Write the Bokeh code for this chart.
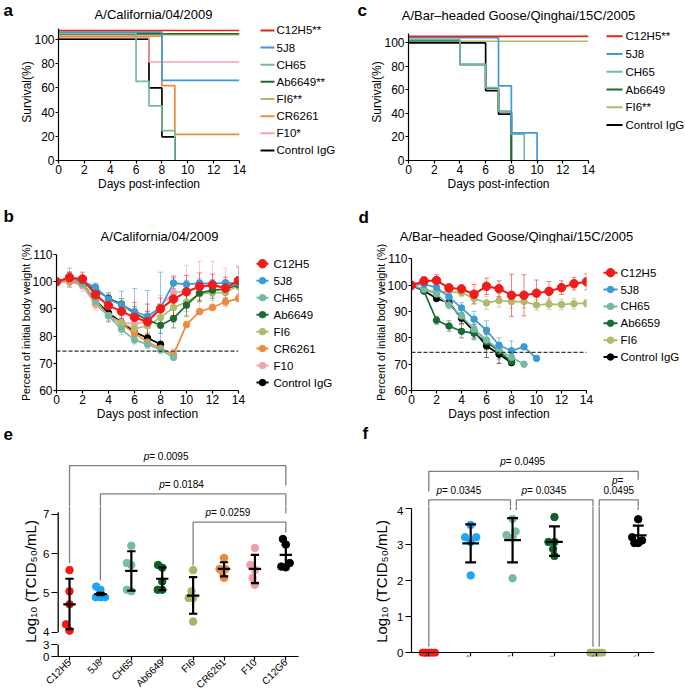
import math
from bokeh.plotting import figure
from bokeh.models import FixedTicker, Span, Whisker, ColumnDataSource, TeeHead, Range1d
from bokeh.layouts import row, column
from bokeh.core.properties import value
from bokeh.embed import file_html
from bokeh.resources import INLINE

FONT = "Liberation Sans"

# ---------------- data ----------------
day_ticks = [0, 2, 4, 6, 8, 10, 12, 14]
surv_ticks = [0, 20, 40, 60, 80, 100]
weight_ticks = [60, 70, 80, 90, 100, 110]
threshold = 74.5

cal_title = "A/California/04/2009"
goose_title = "A/Bar\u2013headed Goose/Qinghai/15C/2005"

# panel a (survival, California)
a_names = ["C12H5**", "5J8", "CH65", "Ab6649**", "FI6**", "CR6261", "F10*", "Control IgG"]
a_event_days = [[0, 14], [0, 8, 14], [0, 6, 7, 8, 9], [0, 14], [0, 14], [0, 8, 9, 14], [0, 7, 14], [0, 7, 8, 9]]
a_survival = [[107.3, 107.3], [105.9, 66.1, 66.1], [105.1, 65.3, 45.0, 24.6, 0], [104.6, 104.6],
              [103.8, 103.8], [102.7, 61.8, 21.6, 21.6], [101.6, 81.3, 81.3], [100.2, 59.9, 19.5, 0]]
a_colors = ["#f01c1c", "#3d9ad6", "#76b9a1", "#1a6b34", "#b0b96c", "#f08a3c", "#f5a3ab", "#000000"]

# panel c (survival, Goose)
c_names = ["C12H5**", "5J8", "CH65", "Ab6649", "FI6**", "Control IgG"]
c_event_days = [[0, 14], [0, 7, 8, 10], [0, 4, 6, 7, 8, 9], [0, 4, 6, 7, 8], [0, 14], [0, 6, 7, 8]]
c_survival = [[105.6, 105.6], [104.5, 63.5, 23.5, 0], [102.8, 82.0, 62.0, 42.0, 22.5, 0],
              [102.0, 81.5, 61.5, 41.5, 0], [101.4, 101.4], [100.0, 59.5, 39.5, 0]]
c_colors = ["#f01c1c", "#3d9ad6", "#76b9a1", "#1a6b34", "#b0b96c", "#000000"]

# panel b (body weight, California)
b_names = ["C12H5", "5J8", "CH65", "Ab6649", "FI6", "CR6261", "F10", "Control IgG"]
b_mean = [
    [100, 101.5, 101, 95.2, 91.2, 89.1, 86.9, 85.3, 90, 93.6, 96.3, 98.2, 98.8, 97.7, 100.4],
    [100, 101.5, 100.2, 98, 93.5, 91.5, 89, 87.3, 90.5, 99.5, 99, 99.5, 99.3, 99.6, 99.5],
    [100, 101, 99.5, 93, 87.5, 82.5, 78.6, 77, 75, 72.2],
    [100, 101.5, 99.5, 97.1, 93.9, 91.8, 88.3, 86, 84, 86.5, 91.4, 95.8, 96.9, 97.3, 98.9],
    [100, 101, 99, 92.3, 87.5, 84.8, 82.7, 83.8, 86.8, 90.5, 92.5, 95.5, 96, 96, 98.6],
    [100, 100, 99.5, 93, 87.5, 84.5, 81, 77.8, 75.5, 73.2, 84.2, 89, 90.5, 92.6, 93.8],
    [100, 100, 98.5, 91.5, 87.5, 85, 84.5, 85.5, 91, 96, 96.5, 98, 98.5, 98, 99.5],
    [100, 101, 99.5, 93, 88.5, 85, 81.5, 79.3, 77],
]
b_err = [
    [0, 2, 2.5, 2, 3, 3.5, 5.5, 6.5, 4, 8.5, 6, 5, 4, 4, 5],
    [0, 3.5, 2, 1.5, 2.5, 5, 8.5, 9.5, 13, 2, 1.5, 1.5, 1.5, 1, 1.5],
    [0, 2, 1.5, 1.5, 2, 2, 1.5, 1.5, 1.5, 1],
    [0, 2, 1.5, 1.5, 1.5, 2, 2.5, 3, 3, 3.5, 4, 3, 3, 2, 1.5],
    [0, 1.5, 1.5, 2, 2, 3, 3, 3.5, 4, 4, 3.5, 3, 3, 2, 1.5],
    [0, 1.5, 1.5, 1.5, 2, 2, 2, 2, 1.5, 2, 1, 1, 1, 1.5, 0.8],
    [0, 2, 2, 2, 2.5, 3, 4, 4, 4, 5, 9.5, 9.5, 9, 7, 6.5],
    [0, 1, 1, 1, 1.5, 1.5, 1.5, 1.5, 1],
]
b_colors = ["#f01c1c", "#3d9ad6", "#76b9a1", "#1a6b34", "#b0b96c", "#f08a3c", "#f5a3ab", "#000000"]

# panel d (body weight, Goose)
d_names = ["C12H5", "5J8", "CH65", "Ab6659", "FI6", "Control IgG"]
d_mean = [
    [100, 101.6, 101.8, 99, 98.6, 96.6, 99.6, 98.7, 96.2, 96.2, 97, 97.7, 99.1, 100.6, 101.3],
    [100, 100.4, 99.2, 95.5, 91.4, 87.1, 82.9, 77.2, 75.1, 76.6, 72.2],
    [100, 98.5, 96.7, 92.5, 88.3, 83.3, 79.2, 75.5, 72.6, 70],
    [100, 97.8, 86.7, 84.5, 82.5, 81.8, 78.5, 75, 71],
    [100, 98.5, 97.5, 97.5, 97.2, 95, 93.3, 94.2, 93.8, 93.8, 92.5, 92.8, 92.7, 93, 93.2],
    [100, 97.9, 95, 93.3, 87.5, 82.5, 77, 73.8, 70.6],
]
d_err = [
    [0, 1.7, 2.2, 1.5, 1.5, 3.7, 3.1, 3, 8, 7.8, 5, 3.7, 2.6, 2.4, 3.1],
    [0, 1, 1, 1.5, 2, 3, 3.6, 2.8, 3.7, 0, 0],
    [0, 1, 1.5, 1.5, 2, 2, 2, 2.5, 2, 0],
    [0, 1, 1.5, 2, 2.5, 2.5, 3, 3, 1],
    [0, 1, 1.5, 1.5, 1.5, 2, 2.5, 2.5, 2.5, 2.5, 2, 2, 2, 2, 1.5],
    [0, 1, 1, 1.5, 2, 2.5, 4.5, 3.5, 1],
]
d_colors = ["#f01c1c", "#3d9ad6", "#76b9a1", "#1a6b34", "#b0b96c", "#000000"]

# panel e (lung titers, California)
e_cats = ["C12H5", "5J8", "CH65", "Ab6649", "FI6", "CR6261", "F10", "C12G6"]
e_values = [
    [5.58, 5.04, 4.71, 4.20, 4.04],
    [5.16, 5.08, 4.89, 4.89, 4.89],
    [6.20, 5.71, 5.76, 5.04, 5.08],
    [5.71, 5.64, 5.29, 5.08, 5.08],
    [5.58, 5.04, 4.87, 4.87, 4.27],
    [5.89, 5.61, 5.61, 5.54, 5.38],
    [6.14, 5.71, 5.58, 5.38, 5.21],
    [6.37, 6.23, 5.76, 5.65, 5.67],
]
e_mean = [4.71, 4.97, 5.56, 5.36, 4.93, 5.61, 5.61, 5.97]
e_hi = [5.36, 5.00, 6.06, 5.65, 5.40, 5.78, 5.97, 6.23]
e_lo = [4.08, 4.94, 5.06, 5.07, 4.47, 5.42, 5.25, 5.69]
e_colors = ["#ff1414", "#1ea5f5", "#78bba3", "#0e5f2c", "#a9b465", "#ee8a3a", "#f59aa6", "#000000"]
e_y_ticks = [0, 3, 4, 5, 6, 7]
e_tests = [(1, 8, "0.0095"), (2, 8, "0.0184"), (5, 8, "0.0259")]

# panel f (lung titers, Goose)
f_cats = ["C12H5", "5J8", "CH65", "Ab6649", "FI6", "C12G6"]
f_values = [
    [0, 0, 0, 0, 0],
    [3.55, 3.21, 3.21, 3.08, 2.15],
    [3.72, 3.37, 3.27, 3.20, 2.07],
    [3.77, 3.08, 3.08, 2.88, 2.69],
    [0, 0, 0, 0, 0],
    [3.71, 3.21, 3.12, 3.05, 3.05],
]
f_mean = [0, 3.04, 3.13, 3.08, 0, 3.26]
f_hi = [0, 3.57, 3.74, 3.51, 0, 3.53]
f_lo = [0, 2.51, 2.51, 2.69, 0, 3.05]
f_colors = ["#ff1414", "#1ea5f5", "#78bba3", "#0e5f2c", "#a9b465", "#000000"]
f_y_ticks = [0, 1, 2, 3, 4]
f_tests = [(1, 6, "0.0495"), (1, 3, "0.0345"), (3, 5, "0.0345"), (5, 6, "0.0495")]

TITER_LABEL = "Log\u2081\u2080 (TCID\u2085\u2080/mL)"

# ---------------- helpers ----------------
U0 = 3.382          # where 0 sits on the broken titer axis
LOW_SCALE = 0.0993  # compression of the 0..3 segment


def to_u(v):
    return v if v >= 4 else U0 + v * LOW_SCALE


def style_axis(ax, size="12px"):
    ax.axis_line_width = 1.2
    ax.axis_line_color = "black"
    ax.major_tick_line_width = 1.2
    ax.major_tick_line_color = "black"
    ax.major_tick_in = 0
    ax.major_tick_out = 3
    ax.minor_tick_line_color = None
    ax.major_label_text_font = FONT
    ax.major_label_text_font_size = size
    ax.major_label_text_color = "black"
    ax.axis_label_text_font = FONT
    ax.axis_label_text_font_size = "12px"
    ax.axis_label_text_font_style = "normal"
    ax.axis_label_text_color = "black"
    ax.major_label_standoff = 1
    ax.axis_label_standoff = 0


def make_fig(G):
    p = figure(width=G["W"], height=G["H"], output_backend="svg", toolbar_location=None,
               x_range=Range1d(G["x0"], G["x1"]), y_range=Range1d(G["y0"], G["y1"]),
               min_border_left=G["fl"], min_border_right=G["W"] - G["fr"],
               min_border_top=G["ft"], min_border_bottom=G["H"] - G["fb"])
    p.outline_line_color = None
    p.grid.grid_line_color = None
    p.background_fill_color = "white"
    p.border_fill_color = "white"
    for ax in p.axis:
        style_axis(ax)
    p.yaxis.major_label_standoff = 1
    p.yaxis.axis_label_standoff = -3
    return p


def pixel_fig(W, H, ft=0, fb=None):
    fb = H if fb is None else fb
    p = figure(width=W, height=H, output_backend="svg", toolbar_location=None,
               x_range=Range1d(0, W), y_range=Range1d(fb, ft),
               min_border_left=0, min_border_right=0, min_border_top=ft, min_border_bottom=H - fb,
               x_axis_location=None, y_axis_location=None)
    p.outline_line_color = None
    p.grid.grid_line_color = None
    p.background_fill_color = "white"
    p.border_fill_color = "white"
    return p


def put_text(p, x, y, t, size, bold=False, italic=False, align="left", **kw):
    style = "bold" if bold else ("italic" if italic else "normal")
    p.text([x], [y], text=[t], text_font=value(FONT), text_font_size=size, text_font_style=style,
           text_align=align, text_baseline="middle", text_color="black", **kw)


def header_fig(W, H, letters, titles):
    p = pixel_fig(W, H)
    for x, y, t in letters:
        put_text(p, x, y, t, "17px", bold=True)
    for x, y, t in titles:
        put_text(p, x, y, t, "13px", align="center")
    return p


def legend_fig(W, H, ft, fb, names, colors, gx0, gx1, tx, cy0, pitch, markers=False):
    p = pixel_fig(W, H, ft, fb)
    n = len(names)
    ys = [cy0 + pitch * k for k in range(n)]
    p.segment(x0=[gx0] * n, y0=ys, x1=[gx1] * n, y1=ys, line_color=colors, line_width=2)
    if markers:
        sizes = [8.5] + [6.5] * (n - 1)
        p.scatter(x=[(gx0 + gx1) / 2] * n, y=ys, size=sizes, fill_color=colors, line_color=colors)
    p.text(x=[tx] * n, y=ys, text=names, text_font=value(FONT), text_font_size="11.5px",
           text_align="left", text_baseline="middle", text_color="black")
    return p


def survival_panel(G, names, evdays, surv, colors, ytop):
    p = make_fig(G)
    p.xaxis.ticker = FixedTicker(ticks=day_ticks)
    p.yaxis.ticker = FixedTicker(ticks=surv_ticks)
    p.yaxis.bounds = (0, ytop)
    p.xaxis.axis_label = "Days post-infection"
    p.yaxis.axis_label = "Survival(%)"
    for k in reversed(range(len(names))):
        p.step(x=evdays[k], y=surv[k], mode="after", line_color=colors[k], line_width=1.7)
    return p


def weight_panel(G, names, means, errs, colors):
    p = make_fig(G)
    p.xaxis.ticker = FixedTicker(ticks=day_ticks)
    p.yaxis.ticker = FixedTicker(ticks=weight_ticks)
    p.yaxis.bounds = (weight_ticks[0], weight_ticks[-1])
    p.xaxis.axis_label = "Days post infection"
    p.yaxis.axis_label = "Percent of initial body weight (%)"
    p.yaxis.axis_label_text_font_size = "10.8px"
    p.add_layout(Span(location=threshold, dimension="width", line_color="#333333",
                      line_dash="4 2", line_width=1.2))
    for k in reversed(range(len(names))):
        m = means[k]
        e = errs[k]
        x = list(range(len(m)))
        c = colors[k]
        src = ColumnDataSource(dict(x=x, lo=[a - b for a, b in zip(m, e)], hi=[a + b for a, b in zip(m, e)]))
        p.add_layout(Whisker(source=src, base="x", lower="lo", upper="hi", line_color=c,
                             line_alpha=0.55, line_width=1, level="underlay",
                             upper_head=TeeHead(size=5, line_color=c, line_alpha=0.55, line_width=1),
                             lower_head=TeeHead(size=5, line_color=c, line_alpha=0.55, line_width=1)))
        big = (k == 0)
        p.line(x, m, line_color=c, line_width=2 if big else 1.7)
        p.scatter(x, m, size=8.5 if big else 6.5, fill_color=c, line_color=c)
    return p


def swarm(vals, ppu_y, diam=7.0):
    n = len(vals)
    offs = [0.0] * n
    placed = []
    cands = sorted([k * 0.5 for k in range(-60, 61)], key=lambda c: (abs(c), c))
    for i in sorted(range(n), key=lambda k: vals[k]):
        yy = vals[i] * ppu_y
        chosen = 0.0
        for c in cands:
            if all((c - px) ** 2 + (yy - py) ** 2 >= diam ** 2 - 1e-6 for px, py in placed):
                chosen = c
                break
        placed.append((chosen, yy))
        offs[i] = chosen
    return offs


def scatter_panel(p, G, values, means, his, los, colors, max_half, cap_w, mean_w, dot):
    ppu_x = (G["fr"] - G["fl"]) / (G["x1"] - G["x0"])
    ppu_y = (G["fb"] - G["ft"]) / (G["y1"] - G["y0"])
    for i, vals in enumerate(values):
        offs = swarm(vals, ppu_y)
        m = max(abs(o) for o in offs)
        if m > max_half:
            offs = [o * max_half / m for o in offs]
        xs = [i + 1 + o / ppu_x for o in offs]
        p.scatter(xs, vals, size=dot, fill_color=colors[i], line_color=colors[i])
    idx = [i for i in range(len(values)) if means[i] > 0]
    xc = [i + 1 for i in idx]
    seg = dict(
        x0=xc + [x - cap_w for x in xc] + [x - cap_w for x in xc] + [x - mean_w for x in xc],
        x1=xc + [x + cap_w for x in xc] + [x + cap_w for x in xc] + [x + mean_w for x in xc],
        y0=[los[i] for i in idx] + [his[i] for i in idx] + [los[i] for i in idx] + [means[i] for i in idx],
        y1=[his[i] for i in idx] + [his[i] for i in idx] + [los[i] for i in idx] + [means[i] for i in idx],
    )
    p.segment("x0", "y0", "x1", "y1", source=ColumnDataSource(seg), line_color="black", line_width=2.2)


def bracket(targets, xa, xb, y, ya, yb):
    for p, kw in targets:
        p.line([xa, xa, xb, xb], [ya, y, y, yb], line_color="#808080", line_width=1.3, **kw)


def pick(targets, G, y):
    # a text goes on the strip above the plot when it sits above the plot frame
    return targets[1] if y > G["y1"] else targets[0]


def ptext(target, anchor_x, y, rest, size="10px"):
    p, kw = target
    p.text([anchor_x], [y], text=["p"], text_font=value(FONT), text_font_size=size,
           text_font_style="italic", text_align="right", text_baseline="middle", text_color="black", **kw)
    p.text([anchor_x], [y], text=[rest], text_font=value(FONT), text_font_size=size,
           text_align="left", text_baseline="middle", text_color="black", **kw)


def titer_axes(p, cats, label_standoff):
    p.xaxis.ticker = FixedTicker(ticks=list(range(1, len(cats) + 1)))
    p.xaxis.major_label_overrides = {i + 1: n for i, n in enumerate(cats)}
    p.xaxis.major_label_orientation = math.pi / 4
    p.xaxis.major_label_text_font_size = "10px"
    p.xaxis.major_tick_out = 4
    p.xaxis.major_label_standoff = 0
    p.yaxis.major_tick_out = 6
    p.yaxis.major_label_text_font_size = "11.5px"
    p.yaxis.major_label_standoff = 2
    p.yaxis.axis_label = TITER_LABEL
    p.yaxis.axis_label_text_font_size = "15px"
    p.yaxis.axis_label_standoff = label_standoff


def continued_ranges(G, page_left, W, HH):
    # data ranges for a strip of height HH above a titer plot, spanning the full page width
    ppu_x = (G["fr"] - G["fl"]) / (G["x1"] - G["x0"])
    ppu_y = (G["fb"] - G["ft"]) / (G["y1"] - G["y0"])
    xs = G["x0"] - (page_left + G["fl"]) / ppu_x
    return Range1d(xs, xs + W / ppu_x), Range1d(G["y1"], G["y1"] + HH / ppu_y)


# ---------------- geometry (pixels inside each canvas) ----------------
PW = 684
LEFT_W = 340
G_a = dict(W=248, H=170, fl=58, fr=239, ft=0, fb=139, x0=0, x1=14, y0=0, y1=139 / 1.2294)
G_c = dict(W=257, H=170, fl=68, fr=248, ft=0, fb=139, x0=0, x1=14, y0=0, y1=139 / 1.193)
G_b = dict(W=247, H=180, fl=56, fr=238, ft=11, fb=148, x0=0, x1=14, y0=60, y1=110)
G_d = dict(W=255, H=180, fl=71, fr=246, ft=11, fb=148, x0=0, x1=14, y0=60, y1=60 + 137 / 2.65)
E_PPU = 30.9
G_e = dict(W=340, H=191, fl=57, fr=298, ft=0, fb=150, x0=8.41 - 241 / E_PPU, x1=8.41, y0=U0, y1=U0 + 150 / 39.3)
G_f = dict(W=344, H=191, fl=71, fr=314, ft=0, fb=150, x0=0.587, x1=6.389, y0=-3.7 / 36, y1=146.3 / 36)

# ---------------- row 1 ----------------
h1 = header_fig(PW, 23, [(3, 9.6, "a"), (357, 9.6, "c")], [(153, 14, cal_title), (518, 15.2, goose_title)])
pa = survival_panel(G_a, a_names, a_event_days, a_survival, a_colors, 109)
la = legend_fig(92, 170, 0, 139, a_names, a_colors, 12, 26, 28, 7, 17.4)
pc = survival_panel(G_c, c_names, c_event_days, c_survival, c_colors, 108)
lc = legend_fig(87, 170, 0, 139, c_names, c_colors, 9, 25, 28, 13, 18)

# ---------------- row 2 ----------------
h2 = header_fig(PW, 50, [(3, 23, "b"), (358, 23.5, "d")], [(159, 42.5, cal_title), (516, 42.5, goose_title)])
pb = weight_panel(G_b, b_names, b_mean, b_err, b_colors)
lb = legend_fig(93, 180, 11, 148, b_names, b_colors, 9, 21, 26, 20.3, 17.1, markers=True)
pd_ = weight_panel(G_d, d_names, d_mean, d_err, d_colors)
ld = legend_fig(89, 180, 11, 148, d_names, d_colors, 8, 22, 25, 29.3, 17, markers=True)

# ---------------- row 3 ----------------
HH3 = 83
h3 = pixel_fig(PW, HH3)
exr, eyr = continued_ranges(G_e, 0, PW, HH3)
fxr, fyr = continued_ranges(G_f, LEFT_W, PW, HH3)
h3.extra_x_ranges = {"ex": exr, "fx": fxr}
h3.extra_y_ranges = {"ey": eyr, "fy": fyr}
put_text(h3, 3, 10, "e", "17px", bold=True)
put_text(h3, 362, 10, "f", "17px", bold=True)

pe = make_fig(G_e)
titer_axes(pe, e_cats, 1)
pe.yaxis.ticker = FixedTicker(ticks=[to_u(v) for v in e_y_ticks])
pe.yaxis.major_label_overrides = {to_u(v): str(v) for v in e_y_ticks if v < 4}
pe.yaxis.bounds = (to_u(0), 7.05)
pe.yaxis.axis_line_color = "white"
# broken y axis line drawn on top: two pieces, 0..3 and 4..top
e_ppu_x = (G_e["fr"] - G_e["fl"]) / (G_e["x1"] - G_e["x0"])
ax_x = G_e["x0"] + 0.7 / e_ppu_x
pe.segment(x0=[ax_x, ax_x], x1=[ax_x, ax_x], y0=[to_u(0), to_u(4)], y1=[to_u(3), 7.05],
           line_color="black", line_width=1.3, level="overlay")
scatter_panel(pe, G_e, e_values, e_mean, e_hi, e_lo, e_colors, 4.5, 0.135, 0.2, 7.5)
e_targets = [(pe, {}), (h3, {"x_range_name": "ex", "y_range_name": "ey"})]
e_levels = [(8.24, 5.76, 7.73), (7.52, 5.32, 7.02), (6.80, 5.70, 6.54)]
e_text_dy = [0.23, 0.23, 0.25]
for (i, j, pv), (y, ya, yb), dy in zip(e_tests, e_levels, e_text_dy):
    bracket(e_targets, i, j, y, ya, yb)
    ptext(pick(e_targets, G_e, y + dy), (i + j) / 2 - 0.92, y + dy, " = " + pv)

pf = make_fig(G_f)
titer_axes(pf, f_cats, 4)
pf.yaxis.ticker = FixedTicker(ticks=f_y_ticks)
pf.yaxis.bounds = (0, 4)
pf.xaxis.fixed_location = 0
scatter_panel(pf, G_f, f_values, f_mean, f_hi, f_lo, f_colors, 6.0, 0.13, 0.2, 7.5)
f_targets = [(pf, {}), (h3, {"x_range_name": "fx", "y_range_name": "fy"})]
f_geom = [(1, 6, 5.04, 4.48, 4.81), (1, 2.95, 4.25, 0.17, 3.97), (3.09, 4.92, 4.25, 3.97, 0.17),
          (5.07, 6, 4.25, 0.17, 3.97)]
for k, ((i, j, pv), (xa, xb, y, ya, yb)) in enumerate(zip(f_tests, f_geom)):
    bracket(f_targets, xa, xb, y, ya, yb)
    if k < 3:
        ptext(pick(f_targets, G_f, y + 0.27), (xa + xb) / 2 - 0.66, y + 0.27, " = " + pv)
    else:
        ptext(pick(f_targets, G_f, y + 0.55), (xa + xb) / 2 - 0.03, y + 0.55, " =")
        p, kw = pick(f_targets, G_f, y + 0.27)
        p.text([(xa + xb) / 2], [y + 0.27], text=[pv], text_font=value(FONT), text_font_size="10px",
               text_align="center", text_baseline="middle", text_color="black", **kw)

layout = column(
    h1, row(pa, la, pc, lc),
    h2, row(pb, lb, pd_, ld),
    h3, row(pe, pf),
)
open("out.html", "w").write(file_html(layout, INLINE))
